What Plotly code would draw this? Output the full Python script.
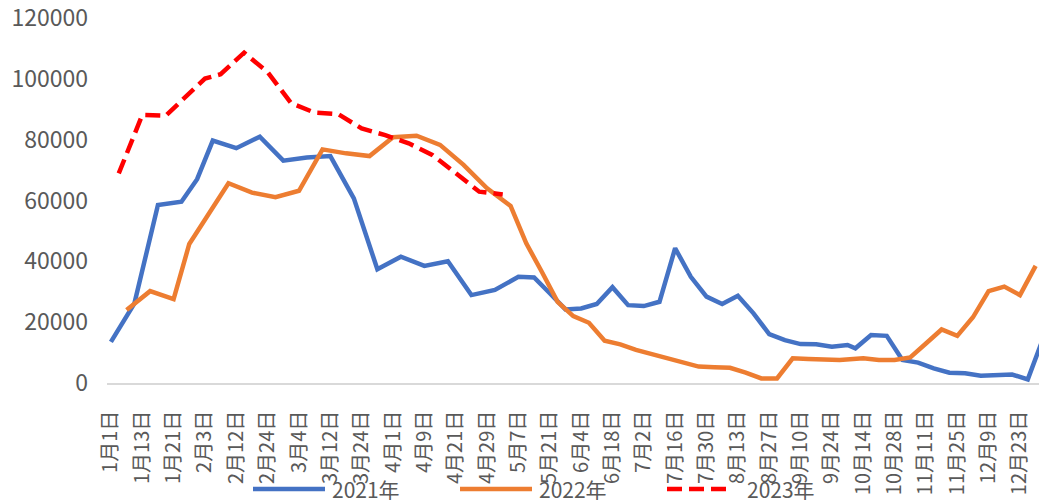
import plotly.graph_objects as go

# Category axis: union of the weekly (Friday) dates of the three years, in month-day order
categories = [
    "1月1日", "1月6日", "1月7日", "1月8日", "1月13日", "1月14日", "1月15日", "1月20日", "1月21日", "1月22日",
    "1月28日", "1月29日", "2月3日", "2月5日", "2月10日", "2月11日", "2月12日", "2月17日", "2月18日", "2月19日",
    "2月24日", "2月25日", "2月26日", "3月3日", "3月4日", "3月5日", "3月10日", "3月11日", "3月12日", "3月17日",
    "3月18日", "3月19日", "3月24日", "3月25日", "3月26日", "3月31日", "4月1日", "4月2日", "4月7日", "4月8日",
    "4月9日", "4月14日", "4月15日", "4月16日", "4月21日", "4月22日", "4月23日", "4月28日", "4月29日", "4月30日",
    "5月5日", "5月6日", "5月7日", "5月13日", "5月14日", "5月20日", "5月21日", "5月27日", "5月28日", "6月3日",
    "6月4日", "6月10日", "6月11日", "6月17日", "6月18日", "6月24日", "6月25日", "7月1日", "7月2日", "7月8日",
    "7月9日", "7月15日", "7月16日", "7月22日", "7月23日", "7月29日", "7月30日", "8月5日", "8月6日", "8月12日",
    "8月13日", "8月19日", "8月20日", "8月26日", "8月27日", "9月2日", "9月3日", "9月9日", "9月10日", "9月16日",
    "9月17日", "9月23日", "9月24日", "9月30日", "10月1日", "10月8日", "10月14日", "10月15日", "10月21日", "10月22日",
    "10月28日", "10月29日", "11月4日", "11月5日", "11月11日", "11月12日", "11月18日", "11月19日", "11月25日", "11月26日",
    "12月2日", "12月3日", "12月9日", "12月10日", "12月16日", "12月17日", "12月23日", "12月24日", "12月30日", "12月31日",
]

tick_labels = [
    "1月1日", "1月13日", "1月21日", "2月3日", "2月12日", "2月24日", "3月4日", "3月12日", "3月24日", "4月1日",
    "4月9日", "4月21日", "4月29日", "5月7日", "5月21日", "6月4日", "6月18日", "7月2日", "7月16日", "7月30日",
    "8月13日", "8月27日", "9月10日", "9月24日", "10月14日", "10月28日", "11月11日", "11月25日", "12月9日", "12月23日",
]

dates_2021 = [
    "1月1日", "1月8日", "1月15日", "1月22日", "1月29日", "2月5日", "2月12日", "2月19日", "2月26日", "3月5日",
    "3月12日", "3月19日", "3月26日", "4月2日", "4月9日", "4月16日", "4月23日", "4月30日", "5月7日", "5月14日",
    "5月21日", "5月28日", "6月4日", "6月11日", "6月18日", "6月25日", "7月2日", "7月9日", "7月16日", "7月23日",
    "7月30日", "8月6日", "8月13日", "8月20日", "8月27日", "9月3日", "9月10日", "9月17日", "9月24日", "10月1日",
    "10月8日", "10月15日", "10月22日", "10月29日", "11月5日", "11月12日", "11月19日", "11月26日", "12月3日", "12月10日",
    "12月17日", "12月24日", "12月31日",
]
values_2021 = [
    13500, 26200, 58500, 59600, 67000, 79700, 77200, 81000, 73100, 74100,
    74600, 60700, 37400, 41500, 38500, 40000, 28900, 30600, 34900, 34700,
    29500, 24200, 24500, 26000, 31500, 25600, 25300, 26700, 44300, 34900,
    28400, 26000, 28700, 22900, 16100, 14100, 12800, 12700, 11900, 12500,
    11400, 15800, 15500, 7600, 6700, 4800, 3400, 3200, 2400, 2600,
    2800, 1200, 15000,
]

dates_2022 = [
    "1月7日", "1月14日", "1月21日", "1月28日", "2月11日", "2月18日", "2月25日", "3月4日", "3月11日", "3月18日",
    "3月25日", "4月1日", "4月8日", "4月15日", "4月22日", "4月29日", "5月6日", "5月13日", "5月20日", "5月27日",
    "6月3日", "6月10日", "6月17日", "6月24日", "7月1日", "7月8日", "7月15日", "7月22日", "7月29日", "8月5日",
    "8月12日", "8月19日", "8月26日", "9月2日", "9月9日", "9月16日", "9月23日", "9月30日", "10月14日", "10月21日",
    "10月28日", "11月4日", "11月11日", "11月18日", "11月25日", "12月2日", "12月9日", "12月16日", "12月23日", "12月30日",
]
values_2022 = [
    24000, 30200, 27600, 45700, 65700, 62600, 61100, 63200, 76800, 75500,
    74600, 80800, 81300, 78300, 71700, 64000, 58200, 45900, 36500, 26700,
    22000, 19800, 13900, 12700, 10900, 9500, 8400, 6800, 5400, 5200,
    5000, 3400, 1500, 1500, 8100, 7900, 7800, 7600, 8100, 7600,
    7600, 8400, 13000, 17600, 15500, 21600, 30200, 31700, 28900, 38500,
]

dates_2023 = [
    "1月6日", "1月13日", "1月20日", "2月3日", "2月10日", "2月17日", "2月24日", "3月3日", "3月10日", "3月17日",
    "3月24日", "3月31日", "4月7日", "4月14日", "4月21日", "4月28日", "5月5日",
]
values_2023 = [
    68900, 88100, 87900, 100100, 101500, 108600, 102200, 92000, 88900, 88400,
    83700, 81500, 78800, 75000, 69000, 62900, 62000,
]

y_ticks = [0, 20000, 40000, 60000, 80000, 100000, 120000]
series_names = ["2021年", "2022年", "2023年"]
colors = ["#4472C4", "#ED7D31", "#FF0000"]

FONT = "Noto Sans CJK SC, Noto Sans, sans-serif"
GRAY = "#595959"
DASH = "15px,7px"

fig = go.Figure()
fig.add_trace(go.Scatter(x=dates_2021, y=values_2021, mode="lines", name=series_names[0],
                         line=dict(color=colors[0], width=4.5), showlegend=False))
fig.add_trace(go.Scatter(x=dates_2022, y=values_2022, mode="lines", name=series_names[1],
                         line=dict(color=colors[1], width=4.5), showlegend=False))
fig.add_trace(go.Scatter(x=dates_2023, y=values_2023, mode="lines", name=series_names[2],
                         line=dict(color=colors[2], width=4.5, dash=DASH), showlegend=False))

L, R, T, B = 107, 0, 18, 117
W, H = 1039, 500
pw = W - L - R
ph = H - T - B

fig.update_layout(
    width=W, height=H, autosize=False,
    margin=dict(l=L, r=R, t=T, b=B, pad=0),
    paper_bgcolor="white", plot_bgcolor="white",
    font=dict(family=FONT, color=GRAY),
    xaxis=dict(
        type="category", categoryorder="array", categoryarray=categories,
        range=[-0.5, 118.43],
        tickmode="array", tickvals=tick_labels, ticktext=tick_labels,
        tickangle=-90, tickfont=dict(size=20, color=GRAY, family=FONT),
        ticks="", showgrid=False, zeroline=False,
        showline=True, linecolor="#D9D9D9", linewidth=1.5,
        ticklabelstandoff=18, ticklabeloverflow="allow",
    ),
    yaxis=dict(
        range=[0, 120000], tickmode="array", tickvals=y_ticks,
        ticktext=[str(v) for v in y_ticks],
        tickfont=dict(size=23, color=GRAY, family=FONT),
        showgrid=False, zeroline=False, showline=False, ticks="",
        ticklabelstandoff=18, ticklabeloverflow="allow",
    ),
)

# Legend drawn at the bottom like the original (long line samples)
leg_y = (H - B - 489) / ph
leg_items = [(253, 325, 330), (460, 532, 537), (667, 731, 745)]
for (x0, x1, xt), name, col, dash in zip(leg_items, series_names, colors, ["solid", "solid", DASH]):
    fig.add_shape(type="line", xref="paper", yref="paper",
                  x0=(x0 - L) / pw, x1=(x1 - L) / pw, y0=leg_y, y1=leg_y,
                  line=dict(color=col, width=4.5, dash=dash))
    fig.add_annotation(xref="paper", yref="paper", x=(xt - L) / pw, y=leg_y,
                       xanchor="left", yanchor="middle", showarrow=False,
                       text=name, font=dict(size=21, color=GRAY, family=FONT))

fig.write_html(
    "out.html",
    config={"displayModeBar": False},
    post_script="document.body.style.margin='0';document.body.style.overflow='hidden';",
)
